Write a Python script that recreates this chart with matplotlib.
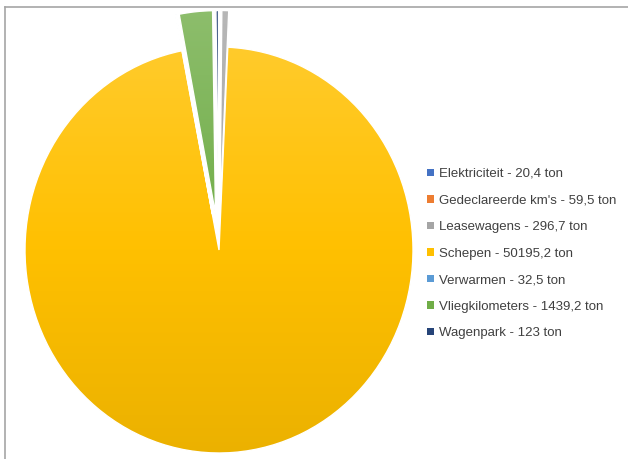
import matplotlib.pyplot as plt
import numpy as np
from matplotlib.colors import LinearSegmentedColormap, to_rgb
from matplotlib.patches import Patch
from matplotlib.lines import Line2D

plt.rcParams['font.family'] = ['Liberation Sans', 'DejaVu Sans']

# data
categories = ['Elektriciteit', "Gedeclareerde km's", 'Leasewagens', 'Schepen',
              'Verwarmen', 'Vliegkilometers', 'Wagenpark']
values = [20.4, 59.5, 296.7, 50195.2, 32.5, 1439.2, 123]
value_labels = ['20,4', '59,5', '296,7', '50195,2', '32,5', '1439,2', '123']
colors = ['#4472C4', '#ED7D31', '#A5A5A5', '#FFC000', '#5B9BD5', '#70AD47', '#264478']

W, H = 628, 459
fig = plt.figure(figsize=(W / 100, H / 100), dpi=100)

# pie is slightly taller than wide in the reference
cx, cy, rx, ry = 219, 250, 194, 203
lim = 1.3
ax = fig.add_axes([(cx - lim * rx) / W, (H - cy - lim * ry) / H,
                   2 * lim * rx / W, 2 * lim * ry / H])

explode = [0.18 if c != 'Schepen' else 0 for c in categories]
wedges, _ = ax.pie(values, colors=colors, startangle=90, counterclock=False,
                   explode=explode,
                   wedgeprops=dict(edgecolor='white', linewidth=1.0))
ax.set_aspect('auto')


def shade(c, f):
    r, g, b = to_rgb(c)
    if f > 0:
        return (r + (1 - r) * f, g + (1 - g) * f, b + (1 - b) * f)
    return (r * (1 + f), g * (1 + f), b * (1 + f))


# vertical gradient fill like the Excel theme
grad = np.linspace(0, 1, 256).reshape(-1, 1)
for w, c in zip(wedges, colors):
    cmap = LinearSegmentedColormap.from_list('g', [shade(c, -0.10), c, shade(c, 0.22)])
    im = ax.imshow(grad, cmap=cmap, extent=(-1.3, 1.3, -1.3, 1.3), origin='lower',
                   aspect='auto', zorder=1)
    im.set_clip_path(w)
    w.set_facecolor('none')
    w.set_zorder(2)
ax.set_xlim(-lim, lim)
ax.set_ylim(-lim, lim)

# legend
handles = [Patch(facecolor=c, edgecolor='none') for c in colors]
labels = [f'{c} - {v} ton' for c, v in zip(categories, value_labels)]
fig.legend(handles, labels, loc='upper left', bbox_to_anchor=(427 / W, 1 - 168 / H),
           frameon=False, fontsize=9.5, handlelength=0.5, handleheight=0.5,
           handletextpad=0.4, labelspacing=1.1, borderaxespad=0, borderpad=0,
           labelcolor='#404040')

# chart border (top and left edges visible)
fig.add_artist(Line2D([5 / W, 1], [1 - 7 / H, 1 - 7 / H], color='#A6A6A6', lw=1.2))
fig.add_artist(Line2D([5 / W, 5 / W], [0, 1 - 7 / H], color='#A6A6A6', lw=1.2))

fig.savefig('out.png', dpi=100)
